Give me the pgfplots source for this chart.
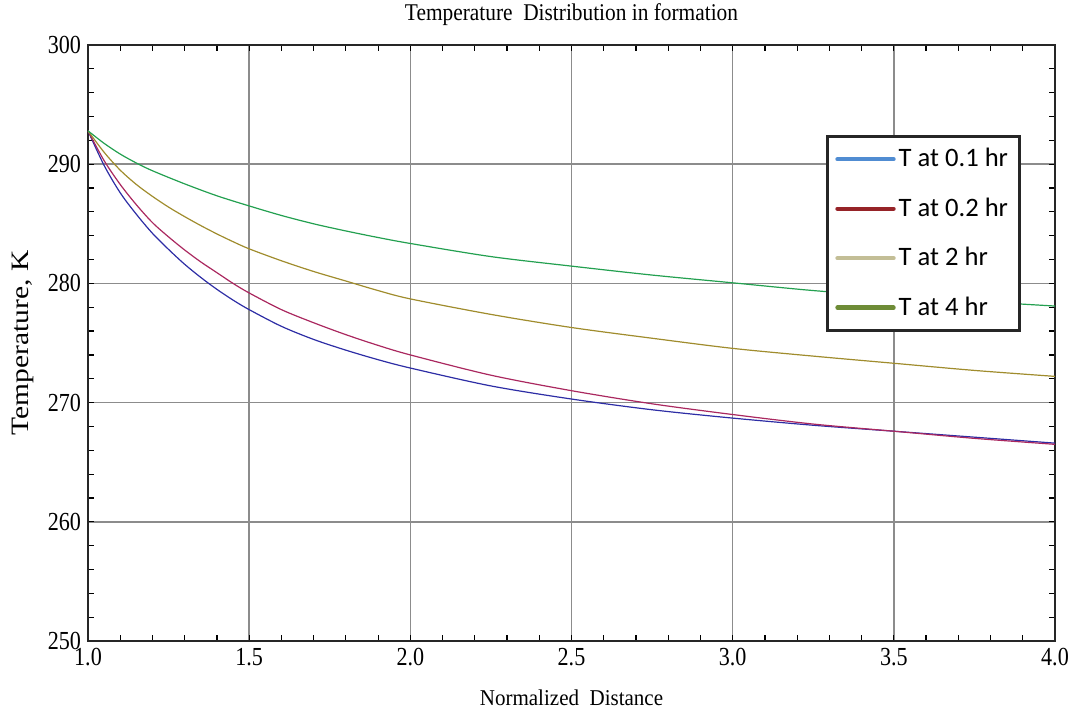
\documentclass[border=0pt]{standalone}
\usepackage{pgfplots}
\pgfplotsset{compat=1.18}
\usepackage{fontspec}
\setmainfont{Liberation Serif}
\newfontfamily\carlito{Carlito}
\usepackage{graphicx}
\definecolor{plotblue}{RGB}{45,45,165}
\definecolor{plotred}{RGB}{170,40,95}
\definecolor{plotkhaki}{RGB}{160,140,45}
\definecolor{plotgreen}{RGB}{35,160,80}
\definecolor{legblue}{RGB}{80,140,210}
\definecolor{legred}{RGB}{150,35,40}
\definecolor{legkhaki}{RGB}{195,190,150}
\definecolor{leggreen}{RGB}{110,140,55}
\begin{document}
\begin{tikzpicture}
\useasboundingbox (-44pt,-36.5pt) rectangle (491pt,320.5pt);
\begin{axis}[
  width=483.5pt, height=298pt, scale only axis,
  xmin=1, xmax=4, ymin=250, ymax=300,
  xtick={1,1.5,2,2.5,3,3.5,4}, ytick={250,260,270,280,290,300},
  minor x tick num=4, minor y tick num=4,
  tick align=inside, major tick length=3pt, minor tick length=3pt,
  xtick pos=both, ytick pos=both,
  grid=major, major grid style={black!45, line width=0.8pt},
  axis line style={black!85, line width=0.8pt},
  tick style={black, line width=0.6pt},
  /pgf/number format/assume math mode=true,
  xticklabel={\scalebox{0.85}[1]{\pgfmathprintnumber[fixed,fixed zerofill,precision=1]{\tick}}},
  yticklabel={\scalebox{0.85}[1]{\pgfmathprintnumber[fixed,precision=0]{\tick}}},
  ticklabel style={font=\fontsize{13}{15}\selectfont},
  title={\scalebox{0.89}[1]{Temperature\ \ Distribution in formation}},
  title style={font=\fontsize{12}{14}\selectfont, yshift=0pt},
  xlabel={\scalebox{0.93}[1]{Normalized\ \ Distance}},
  xlabel style={font=\fontsize{11.3}{13}\selectfont, yshift=-5pt},
  ylabel={\scalebox{1.18}[1]{Temperature, K}},
  ylabel style={font=\fontsize{12.5}{15}\selectfont},
  legend style={at={(rel axis cs:0.763,0.849)}, anchor=north west,
    draw=black!85, line width=1.5pt, fill=white,
    inner xsep=4pt, inner ysep=4.5pt, row sep=11pt,
    font=\carlito\fontsize{13.3}{15}\selectfont,
    nodes={inner sep=1.5pt}},
  legend cell align=left,
  legend image code/.code={\draw[#1, line width=2.2pt, line cap=round] (0pt,0pt) -- (28pt,0pt);},
]
\addlegendimage{legblue}
\addlegendentry{T at 0.1 hr}
\addlegendimage{legred}
\addlegendentry{T at 0.2 hr}
\addlegendimage{legkhaki}
\addlegendentry{T at 2 hr}
\addlegendimage{leggreen}
\addlegendentry{T at 4 hr}

% T at 0.1 hr
\addplot[plotblue, line width=0.6pt, smooth, forget plot] coordinates {
(1.0,292.8) (1.05,289.9) (1.1,287.6) (1.15,285.8) (1.2,284.2)
(1.25,282.85) (1.3,281.6) (1.35,280.5) (1.4,279.5) (1.45,278.6) (1.5,277.8)
(1.6,276.4) (1.7,275.3) (1.8,274.4) (1.9,273.6) (2.0,272.9)
(2.25,271.4) (2.5,270.3) (2.75,269.4) (3.0,268.7) (3.25,268.1) (3.5,267.6)
(3.75,267.1) (4.0,266.6)};
% T at 0.2 hr
\addplot[plotred, line width=0.6pt, smooth, forget plot] coordinates {
(1.0,292.8) (1.05,290.3) (1.1,288.3) (1.15,286.6) (1.2,285.1) (1.25,283.9)
(1.3,282.8) (1.35,281.8) (1.4,280.9) (1.45,280.0) (1.5,279.2)
(1.6,277.8) (1.7,276.7) (1.8,275.7) (1.9,274.8) (2.0,274.0) (2.25,272.3)
(2.5,271.0) (2.75,269.9) (3.0,269.0) (3.25,268.2) (3.5,267.6) (3.75,267.0)
(4.0,266.5)};
% T at 2 hr
\addplot[plotkhaki, line width=0.6pt, smooth, forget plot] coordinates {
(1.0,292.8) (1.05,291.0) (1.1,289.5) (1.15,288.3) (1.2,287.3)
(1.25,286.4) (1.3,285.6) (1.35,284.85) (1.4,284.15) (1.45,283.5) (1.5,282.9)
(1.6,281.9) (1.7,281.0) (1.8,280.2) (1.9,279.4) (2.0,278.7)
(2.25,277.4) (2.5,276.3) (2.75,275.4) (3.0,274.55) (3.25,273.9) (3.5,273.3)
(3.75,272.7) (4.0,272.2)};
% T at 4 hr
\addplot[plotgreen, line width=0.6pt, smooth, forget plot] coordinates {
(1.0,292.8) (1.05,291.75) (1.1,290.85) (1.15,290.1) (1.2,289.45) (1.3,288.35)
(1.4,287.35) (1.5,286.5) (1.6,285.7) (1.7,285.0) (1.8,284.4) (1.9,283.85)
(2.0,283.35) (2.25,282.25) (2.5,281.45)
(2.75,280.7) (3.0,280.05) (3.25,279.4) (3.5,278.9) (3.75,278.5) (4.0,278.1)};
\end{axis}
\end{tikzpicture}
\end{document}
